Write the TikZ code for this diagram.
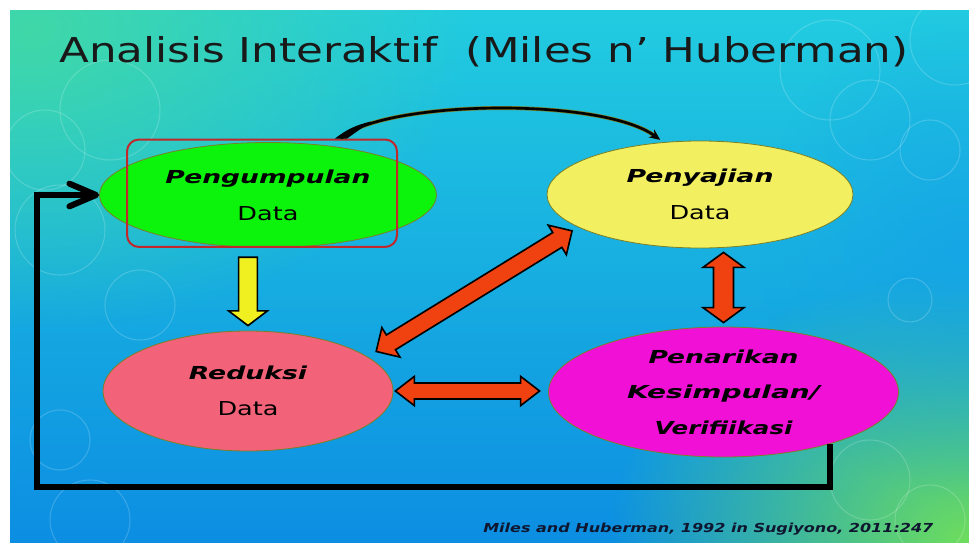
\documentclass[tikz,border=0pt]{standalone}
\usepackage{fontspec}
\setmainfont{DejaVu Sans}
\usepackage{graphicx}
\usetikzlibrary{positioning,calc,arrows.meta,fadings,shapes.geometric}

\definecolor{slidetop}{RGB}{34,204,224}
\definecolor{slidebottom}{RGB}{12,142,226}
\definecolor{glowteal}{RGB}{64,216,168}
\definecolor{glowgreen}{RGB}{110,222,92}
\definecolor{glowblue}{RGB}{20,160,232}
\definecolor{pengfill}{RGB}{12,244,12}
\definecolor{penyfill}{RGB}{242,240,96}
\definecolor{redfill}{RGB}{242,98,120}
\definecolor{tarikfill}{RGB}{240,16,214}
\definecolor{stageline}{RGB}{122,128,40}
\definecolor{boxred}{RGB}{192,40,44}
\definecolor{arrowred}{RGB}{240,66,16}
\definecolor{arrowyellow}{RGB}{240,240,32}
\definecolor{notecolor}{RGB}{14,22,48}

\tikzfading[name=glow, inner color=transparent!0, outer color=transparent!100]

% stage labels: bold italic name and plain "Data"
\newcommand\stagename[2]{{\fontsize{13.4pt}{16pt}\selectfont\bfseries\itshape\resizebox{#1}{\height}{#2}}}
\newcommand\stagedata{{\fontsize{14.4pt}{17pt}\selectfont\resizebox{45.75pt}{\height}{Data}}}

% block arrows: style, from, to, gap at from, gap at to, half shaft, half head, head length
\newcommand\dblarrow[8]{%
  \coordinate (ta) at ($(#2)!#4!(#3)$);
  \coordinate (tb) at ($(#3)!#5!(#2)$);
  \coordinate (ha) at ($(ta)!#8!(tb)$);
  \coordinate (hb) at ($(tb)!#8!(ta)$);
  \draw[#1] (ta) -- ($(ha)!#7!90:(tb)$) -- ($(ha)!#6!90:(tb)$)
    -- ($(hb)!#6!-90:(ta)$) -- ($(hb)!#7!-90:(ta)$) -- (tb)
    -- ($(hb)!#7!90:(ta)$) -- ($(hb)!#6!90:(ta)$)
    -- ($(ha)!#6!-90:(tb)$) -- ($(ha)!#7!-90:(tb)$) -- cycle;}
\newcommand\onearrow[8]{%
  \coordinate (ta) at ($(#2)!#4!(#3)$);
  \coordinate (tb) at ($(#3)!#5!(#2)$);
  \coordinate (hb) at ($(tb)!#8!(ta)$);
  \draw[#1] ($(ta)!#6!90:(tb)$) -- ($(hb)!#6!-90:(ta)$) -- ($(hb)!#7!-90:(ta)$)
    -- (tb) -- ($(hb)!#7!90:(ta)$) -- ($(hb)!#6!90:(ta)$)
    -- ($(ta)!#6!-90:(tb)$) -- cycle;}

\tikzset{
  stage/.style={ellipse, draw=stageline, line width=0.6pt, inner sep=0pt, align=center,
    font=\fontsize{14pt}{27.75pt}\selectfont},
  blockred/.style={fill=arrowred, draw=black, line width=1.2pt, line join=miter},
  blockyellow/.style={fill=arrowyellow, draw=black, line width=1.2pt, line join=miter},
  loopline/.style={line width=4.5pt, draw=black, -{Straight Barb[length=20pt, width=17pt, round]}},
  cyclearrow/.style={line width=2pt, draw=black, -{Stealth[length=8pt, width=7pt]},
    shorten >=3pt, preaction={draw=stageline, line width=3pt}},
  bokeh/.style={draw=white, opacity=0.18, line width=0.8pt}
}

\begin{document}
\begin{tikzpicture}[x=0.75pt, y=-0.75pt]
\useasboundingbox (0,0) rectangle (969,542);
\fill[white] (0,0) rectangle (969,542);

% slide background
\begin{scope}
  \clip (10,11) rectangle (969,542);
  \shade[top color=slidetop, bottom color=slidebottom] (10,11) rectangle (969,542);
  \fill[glowteal, path fading=glow] (30,30) ellipse [x radius=440, y radius=300];
  \fill[glowgreen, path fading=glow] (969,542) ellipse [x radius=360, y radius=270];
  \fill[glowblue, path fading=glow, opacity=.6] (960,250) ellipse [x radius=200, y radius=250];
  \foreach \cx/\cy/\r in {45/150/40, 110/110/50, 60/230/45, 140/305/35, 60/440/30, 90/520/40,
      830/70/50, 870/120/40, 930/150/30, 955/40/45, 910/300/22, 870/480/40, 930/520/35}
    \draw[bokeh] (\cx,\cy) circle [radius=\r];
\end{scope}

\node[anchor=base west, inner sep=0pt, text=black!90] (title) at (59,63)
  {\fontsize{25.7pt}{30pt}\selectfont\resizebox{636.75pt}{\height}{Analisis Interaktif\ \ (Miles n’ Huberman)}};

\node[stage, fill=pengfill, minimum width=252.75pt, minimum height=78.75pt] (pengumpulan) at (268,195)
  {\stagename{153.75pt}{Pengumpulan}\\\stagedata};
\node[stage, fill=penyfill, minimum width=229.5pt, minimum height=80.25pt] (penyajian) at (700,194.5)
  {\stagename{110.25pt}{Penyajian}\\\stagedata};
\node[stage, fill=redfill, minimum width=217.5pt, minimum height=90pt,
  font=\fontsize{14pt}{27pt}\selectfont] (reduksi) at (248,391)
  {\stagename{88.5pt}{Reduksi}\\\stagedata};
\node[stage, fill=tarikfill, minimum width=262.5pt, minimum height=97.5pt,
  font=\fontsize{14pt}{26.6pt}\selectfont] (penarikan) at (723.5,392)
  {\stagename{112.5pt}{Penarikan}\\\stagename{144.75pt}{Kesimpulan/}\\\stagename{103.5pt}{Verifiikasi}};
\node[draw=boxred, line width=1.5pt, rounded corners=9pt, minimum width=202.5pt,
  minimum height=80.6pt] (pengbox) at (262,193.25) {};

% connectors
\draw[cyclearrow] ([xshift=-42.75pt]pengbox.north east) .. controls +(40,-38) and +(-63,-46) .. (penyajian.125);
\fill[black] ([xshift=-47.25pt]pengbox.north east) to[bend left=12] ([xshift=-20.25pt,yshift=12.75pt]pengbox.north east)
  -- ([xshift=-38.25pt]pengbox.north east) -- cycle;
\coordinate (loopcorner) at (37,487);
\draw[loopline] (penarikan.-26) |- (loopcorner) |- (pengumpulan.west);

\onearrow{blockyellow}{pengumpulan.south -| reduksi.north}{reduksi.north}{7pt}{3.75pt}{7pt}{14.5pt}{11pt}
\dblarrow{blockred}{reduksi.16}{penyajian.195}{7.5pt}{5.25pt}{6.5pt}{13pt}{13pt}
\dblarrow{blockred}{penarikan.north |- penyajian.south}{penarikan.north}{3pt}{3pt}{7.5pt}{15.4pt}{11.25pt}
\dblarrow{blockred}{reduksi.east}{reduksi.east -| penarikan.west}{1.5pt}{6.4pt}{6pt}{11pt}{14.25pt}

\node[anchor=base west, inner sep=0pt, text=notecolor] (source) at (483,532)
  {\fontsize{9.3pt}{11pt}\selectfont\bfseries\itshape\resizebox{337.5pt}{\height}{Miles and Huberman, 1992 in Sugiyono, 2011:247}};
\end{tikzpicture}
\end{document}
